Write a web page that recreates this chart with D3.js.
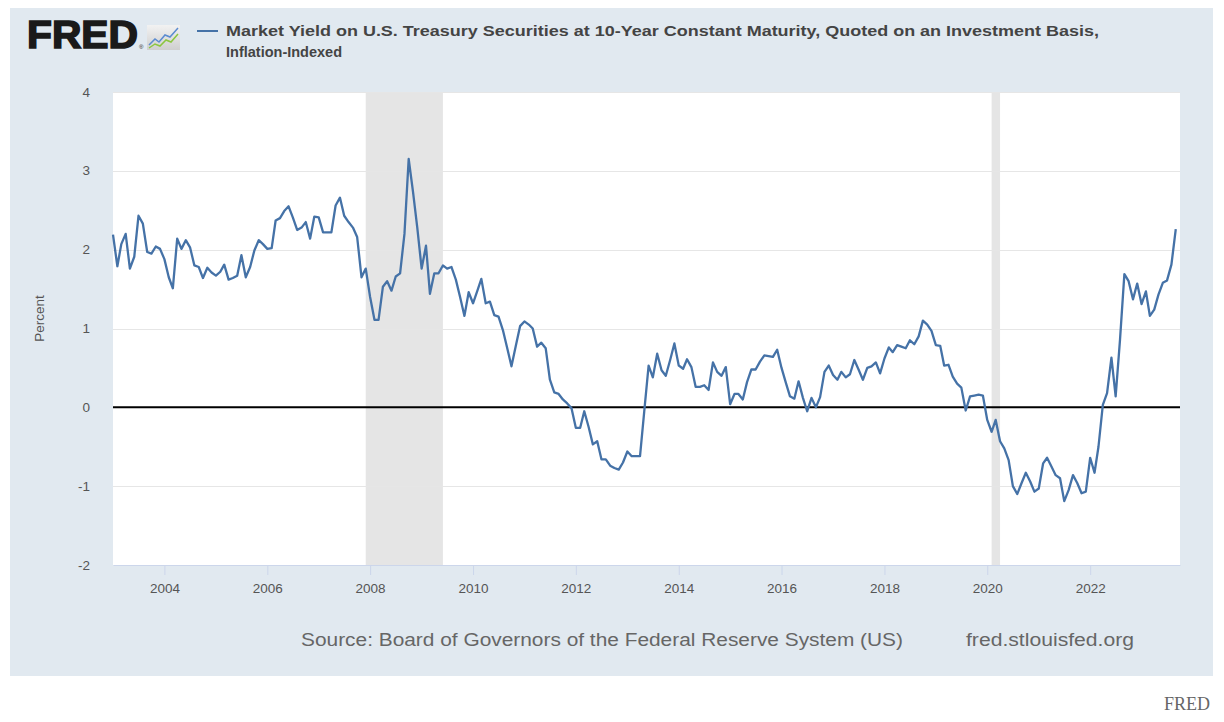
<!DOCTYPE html>
<html>
<head>
<meta charset="utf-8">
<script src="https://cdn.jsdelivr.net/npm/d3@7"></script>
<style>
  body { margin: 0; background: #ffffff; }
  svg { display: block; }
</style>
</head>
<body>
<script>
// monthly observations, Jan 2003 .. Sep 2023 (percent)
const startMonth = new Date(2003, 0, 1);
const domainEnd = new Date(2023, 9, 1);
const yields = [
  2.19, 1.79, 2.07, 2.20, 1.76, 1.91, 2.43, 2.33, 1.97, 1.95, 2.04, 2.01,
  1.88, 1.65, 1.51, 2.14, 2.01, 2.12, 2.03, 1.80, 1.78, 1.64, 1.77, 1.71,
  1.67, 1.72, 1.81, 1.62, 1.64, 1.67, 1.93, 1.65, 1.78, 1.99, 2.12, 2.07,
  2.01, 2.02, 2.37, 2.40, 2.49, 2.55, 2.41, 2.25, 2.28, 2.35, 2.14, 2.42,
  2.41, 2.22, 2.22, 2.22, 2.56, 2.66, 2.43, 2.35, 2.28, 2.16, 1.65, 1.76,
  1.40, 1.11, 1.11, 1.53, 1.60, 1.48, 1.66, 1.70, 2.20, 3.15, 2.73, 2.28,
  1.76, 2.05, 1.44, 1.70, 1.70, 1.80, 1.76, 1.78, 1.62, 1.40, 1.16, 1.46,
  1.32, 1.48, 1.63, 1.32, 1.34, 1.17, 1.15, 0.98, 0.75, 0.52, 0.78, 1.03,
  1.09, 1.05, 1.00, 0.77, 0.82, 0.75, 0.35, 0.19, 0.17, 0.10, 0.05, -0.01,
  -0.26, -0.26, -0.05, -0.25, -0.47, -0.43, -0.66, -0.66, -0.74, -0.77, -0.79, -0.70,
  -0.56, -0.62, -0.62, -0.62, -0.05, 0.53, 0.38, 0.68, 0.47, 0.40, 0.60, 0.81,
  0.53, 0.49, 0.61, 0.51, 0.26, 0.26, 0.28, 0.22, 0.57, 0.45, 0.40, 0.51,
  0.04, 0.17, 0.17, 0.10, 0.32, 0.48, 0.48, 0.58, 0.66, 0.65, 0.64, 0.73,
  0.50, 0.31, 0.14, 0.11, 0.33, 0.12, -0.05, 0.12, 0.00, 0.13, 0.45, 0.53,
  0.41, 0.35, 0.45, 0.38, 0.42, 0.60, 0.48, 0.35, 0.50, 0.52, 0.57, 0.43,
  0.62, 0.76, 0.70, 0.79, 0.77, 0.75, 0.85, 0.80, 0.90, 1.10, 1.05, 0.97,
  0.79, 0.78, 0.53, 0.54, 0.39, 0.30, 0.25, -0.04, 0.14, 0.15, 0.16, 0.15,
  -0.16, -0.31, -0.16, -0.43, -0.52, -0.67, -1.00, -1.10, -0.96, -0.83, -0.94, -1.07,
  -1.03, -0.71, -0.64, -0.75, -0.86, -0.90, -1.19, -1.05, -0.86, -0.96, -1.09, -1.07,
  -0.64, -0.83, -0.50, 0.03, 0.18, 0.63, 0.14, 0.86, 1.69, 1.60, 1.37, 1.57,
  1.31, 1.47, 1.16, 1.24, 1.43, 1.58, 1.61, 1.81, 2.26
];
const recessions = [
  ['2007-12-01', '2009-06-01'],
  ['2020-02-01', '2020-04-01']
];
const yTicks = [-2, -1, 0, 1, 2, 3, 4];
const xTickYears = [2004, 2006, 2008, 2010, 2012, 2014, 2016, 2018, 2020, 2022];

const titleLine1 = 'Market Yield on U.S. Treasury Securities at 10-Year Constant Maturity, Quoted on an Investment Basis,';
const titleLine2 = 'Inflation-Indexed';
const sourceText = 'Source: Board of Governors of the Federal Reserve System (US)';
const siteText = 'fred.stlouisfed.org';

const months = d3.timeMonth.range(startMonth, d3.timeMonth.offset(startMonth, yields.length));
const data = months.map(function(d, i) { return {date: d, value: yields[i]}; });

const width = 1224, height = 722;
const plot = {left: 113, right: 1180, top: 92, bottom: 565};
const lineBlue = '#4572a7';
const panelBg = '#e1e9f0';
const font = "'Liberation Sans', Arial, Helvetica, sans-serif";

var svg = d3.select('body').append('svg')
  .attr('width', width)
  .attr('height', height)
  .style('font-family', font);

// outer panel
svg.append('rect')
  .attr('x', 10).attr('y', 8)
  .attr('width', 1203).attr('height', 668)
  .attr('fill', panelBg);

// header: logo
svg.append('text')
  .attr('x', 27).attr('y', 48)
  .attr('font-size', 39).attr('font-weight', 'bold')
  .attr('fill', '#1a1a1a')
  .attr('stroke', '#1a1a1a').attr('stroke-width', 1.6)
  .attr('textLength', 111).attr('lengthAdjust', 'spacingAndGlyphs')
  .text('FRED');
svg.append('text')
  .attr('x', 139).attr('y', 49)
  .attr('font-size', 6).attr('fill', '#1a1a1a')
  .text('®');

var grad = svg.append('defs').append('linearGradient')
  .attr('id', 'iconbg').attr('x1', 0).attr('y1', 0).attr('x2', 0).attr('y2', 1);
grad.append('stop').attr('offset', '0%').attr('stop-color', '#f2f2f2');
grad.append('stop').attr('offset', '100%').attr('stop-color', '#cfcfcf');

var icon = svg.append('g').attr('transform', 'translate(147,25)');
icon.append('rect').attr('width', 33).attr('height', 25).attr('fill', 'url(#iconbg)');
icon.append('path')
  .attr('d', 'M2,20 L8,14 L12,17 L18,10 L23,12 L31,3')
  .attr('fill', 'none').attr('stroke', '#5b8bd0').attr('stroke-width', 1.5);
icon.append('path')
  .attr('d', 'M2,23 L8,19 L13,21 L19,15 L24,17 L31,9')
  .attr('fill', 'none').attr('stroke', '#8cc63f').attr('stroke-width', 1.5);

// header: legend + title
svg.append('line')
  .attr('x1', 197).attr('x2', 218)
  .attr('y1', 31).attr('y2', 31)
  .attr('stroke', lineBlue).attr('stroke-width', 2);
svg.append('text')
  .attr('x', 226).attr('y', 36)
  .attr('font-size', 15.5).attr('font-weight', 'bold').attr('fill', '#444')
  .attr('textLength', 873).attr('lengthAdjust', 'spacingAndGlyphs')
  .text(titleLine1);
svg.append('text')
  .attr('x', 226).attr('y', 57)
  .attr('font-size', 15.5).attr('font-weight', 'bold').attr('fill', '#444')
  .attr('textLength', 116).attr('lengthAdjust', 'spacingAndGlyphs')
  .text(titleLine2);

// scales
var x = d3.scaleTime()
  .domain([startMonth, domainEnd])
  .range([plot.left, plot.right]);

var y = d3.scaleLinear()
  .domain([-2, 4])
  .range([plot.bottom, plot.top]);

// plot background
svg.append('rect')
  .attr('x', plot.left).attr('y', plot.top)
  .attr('width', plot.right - plot.left).attr('height', plot.bottom - plot.top)
  .attr('fill', '#ffffff');

// recession shading
const parseDay = d3.timeParse('%Y-%m-%d');
svg.append('g')
  .selectAll('rect')
  .data(recessions)
  .enter()
  .append('rect')
    .attr('x', function(d) { return x(parseDay(d[0])); })
    .attr('y', plot.top)
    .attr('width', function(d) { return x(parseDay(d[1])) - x(parseDay(d[0])); })
    .attr('height', plot.bottom - plot.top)
    .attr('fill', '#e5e5e5');

// grid
svg.append('g')
  .selectAll('line')
  .data(yTicks.filter(function(d) { return d !== 0 && d !== -2; }))
  .enter()
  .append('line')
    .attr('x1', plot.left).attr('x2', plot.right)
    .attr('y1', function(d) { return Math.round(y(d)) + 0.5; })
    .attr('y2', function(d) { return Math.round(y(d)) + 0.5; })
    .attr('stroke', '#e6e6e6').attr('stroke-width', 1);

// y labels
svg.append('g')
  .selectAll('text')
  .data(yTicks)
  .enter()
  .append('text')
    .attr('x', 90)
    .attr('y', function(d) { return y(d) + 4.5; })
    .attr('text-anchor', 'end')
    .attr('font-size', 13.5).attr('fill', '#555')
    .text(function(d) { return d; });

svg.append('text')
  .attr('transform', 'translate(44,' + ((plot.top + plot.bottom) / 2 - 10) + ') rotate(-90)')
  .attr('text-anchor', 'middle')
  .attr('font-size', 13.5).attr('fill', '#555')
  .text('Percent');

// x axis
var xAxis = d3.axisBottom(x)
  .tickValues(xTickYears.map(function(yr) { return new Date(yr, 0, 1); }))
  .tickFormat(d3.timeFormat('%Y'))
  .tickSize(10)
  .tickSizeOuter(0)
  .tickPadding(8);

var gx = svg.append('g')
  .attr('transform', 'translate(0,' + plot.bottom + ')')
  .call(xAxis);
gx.select('.domain').attr('stroke', '#ccd6eb').attr('stroke-width', 1);
gx.selectAll('.tick line').attr('stroke', '#ccd6eb');
gx.selectAll('.tick text')
  .attr('font-size', 13.5).attr('fill', '#555')
  .attr('font-family', font);

// zero line
svg.append('line')
  .attr('x1', plot.left).attr('x2', plot.right)
  .attr('y1', y(0)).attr('y2', y(0))
  .attr('stroke', '#000').attr('stroke-width', 2);

// series
svg.append('path')
  .datum(data)
  .attr('fill', 'none')
  .attr('stroke', lineBlue)
  .attr('stroke-width', 2.3)
  .attr('stroke-linejoin', 'round')
  .attr('d', d3.line()
    .x(function(d) { return x(d.date); })
    .y(function(d) { return y(d.value); }));

// footer
svg.append('text')
  .attr('x', 301).attr('y', 646)
  .attr('font-size', 17.5).attr('fill', '#666')
  .attr('textLength', 602).attr('lengthAdjust', 'spacingAndGlyphs')
  .text(sourceText);
svg.append('text')
  .attr('x', 966).attr('y', 646)
  .attr('font-size', 17.5).attr('fill', '#666')
  .attr('textLength', 168).attr('lengthAdjust', 'spacingAndGlyphs')
  .text(siteText);

svg.append('text')
  .attr('x', 1210).attr('y', 710)
  .attr('text-anchor', 'end')
  .attr('font-family', "'Liberation Serif', 'DejaVu Serif', serif")
  .attr('font-size', 18).attr('fill', '#666')
  .text('FRED');
</script>
</body>
</html>
